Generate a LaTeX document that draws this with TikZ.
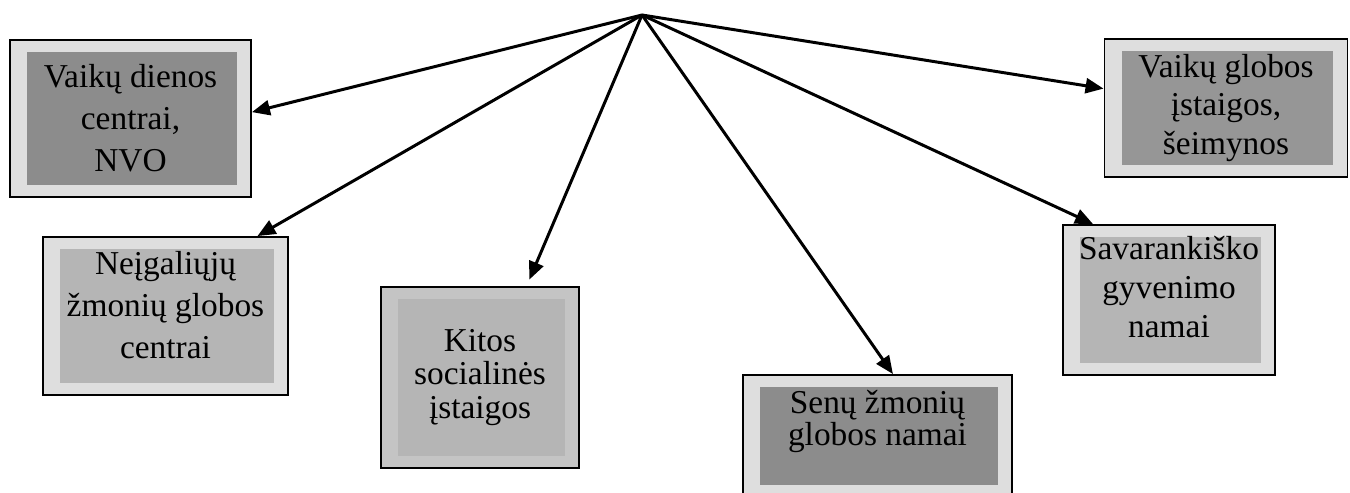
\documentclass[tikz,border=0pt]{standalone}
\usepackage{fontspec}
\setmainfont{Liberation Serif}
\usetikzlibrary{arrows.meta}
\usetikzlibrary{positioning}

\definecolor{framegray}{gray}{0.87}
\definecolor{darkfill}{gray}{0.55}
\definecolor{midfill}{gray}{0.59}
\definecolor{lightfill}{gray}{0.71}

\tikzset{
  infill/.style={path picture={
      \fill[#1] ([shift={(0.34cm,0.24cm)}]path picture bounding box.south west)
        rectangle ([shift={(-0.28cm,-0.24cm)}]path picture bounding box.north east);}}
}

\begin{document}
\begin{tikzpicture}[x=0.02cm,y=-0.02cm]
        \useasboundingbox (0,0) rectangle (1350,493);
        \clip (0,0) rectangle (1350,493);

        \coordinate (top) at (642,15);

        \begin{scope}[every node/.style={rectangle,draw,line width=1.1pt,fill=framegray,
            inner sep=0pt,align=center,font=\fontsize{19}{24}\selectfont}]
            \node[minimum width=4.82cm,minimum height=3.14cm,infill=darkfill] (dienos) at (130.5,118.5) {Vaikų dienos\\centrai,\\NVO};
            \node[minimum width=4.9cm,minimum height=3.16cm,infill=lightfill] (neigaliuju) at (165.5,316) {Neįgaliųjų\\žmonių globos\\centrai\\[-0.4cm]};
            \node[minimum width=3.96cm,minimum height=3.62cm,fill=lightfill!80!white,infill=lightfill,
                font=\fontsize{19}{19}\selectfont] (kitos) at (480,377.5) {Kitos\\socialinės\\įstaigos};
            \node[minimum width=5.38cm,minimum height=2.44cm,infill=darkfill,
                font=\fontsize{19}{18}\selectfont] (senu) at (877.5,436) {Senų žmonių\\globos namai\\[0.1cm]};
            \node[minimum width=4.24cm,minimum height=3.0cm,infill=lightfill,
                font=\fontsize{19}{22}\selectfont] (savarankisko) at (1169,300) {Savarankiško\\gyvenimo\\namai\\[-0.25cm]};
            \node[minimum width=4.86cm,minimum height=2.76cm,infill=midfill,
                font=\fontsize{19}{22}\selectfont] (globos) at (1226,108) {Vaikų globos\\įstaigos,\\šeimynos};
        \end{scope}

        \begin{scope}[>={Triangle[length=0.36cm,width=0.3cm]},line width=1.7pt]
            \path [->] (top) edge (dienos.3);
            \path [->] (top) edge (neigaliuju.41);
            \path [->] (top) edge[shorten >=0.14cm] (kitos.63);
            \path [->] (top) edge (senu.76);
            \path [->] (top) edge (savarankisko.135);
            \path [->] (top) edge (globos.171);
        \end{scope}
\end{tikzpicture}
\end{document}
